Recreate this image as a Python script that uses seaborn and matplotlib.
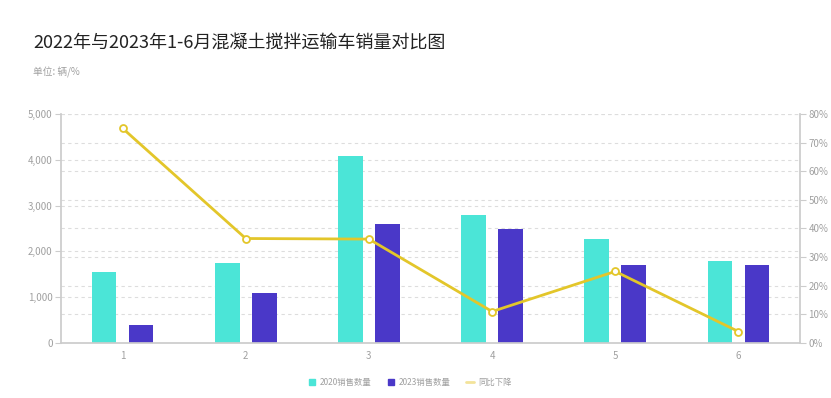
import numpy as np
import pandas as pd
import matplotlib
matplotlib.use("Agg")
import matplotlib.pyplot as plt
import seaborn as sns
from matplotlib.lines import Line2D
from matplotlib.ticker import FuncFormatter, MultipleLocator

months = ["1", "2", "3", "4", "5", "6"]
sales_2022 = [1560, 1740, 4090, 2800, 2270, 1780]
sales_2023 = [390, 1100, 2600, 2490, 1700, 1710]
decline_pct = [75, 36.5, 36.3, 11, 25, 4]
series_names = ["2020销售数量", "2023销售数量"]
line_name = "同比下降"

teal = "#4BE5D7"
purple = "#4A38C8"
yellow = "#E3C62A"
grid_c = "#DDDDDD"
axis_c = "#CCCCCC"
text_c = "#A0A0A0"

sns.set_theme(style="white")
plt.rcParams['font.family'] = ['Noto Sans CJK SC', 'DejaVu Sans']

df = pd.DataFrame({
    "month": months * 2,
    "value": sales_2022 + sales_2023,
    "series": [series_names[0]] * 6 + [series_names[1]] * 6,
})

LEFT_MAX, RIGHT_MAX = 5000, 80

fig = plt.figure(figsize=(8.31, 3.98), dpi=100)
ax = fig.add_axes([0.0734, 0.1382, 0.8893, 0.5754])

# gridlines for both axes drawn behind the bars
for v in range(1000, LEFT_MAX + 1, 1000):
    ax.axhline(v, color=grid_c, linestyle=(0, (3, 3)), linewidth=0.8, zorder=0)
for p in range(10, RIGHT_MAX + 1, 10):
    ax.axhline(p / RIGHT_MAX * LEFT_MAX, color=grid_c, linestyle=(0, (3, 3)), linewidth=0.8, zorder=0)

sns.barplot(data=df, x="month", y="value", hue="series", ax=ax,
            palette=[teal, purple], width=0.6, gap=0.333, saturation=1,
            legend=False, edgecolor="none", linewidth=0, zorder=2)
ax.set_xlim(-0.5, 5.5)
ax.set_ylim(0, LEFT_MAX)
ax.yaxis.set_major_locator(MultipleLocator(1000))
ax.yaxis.set_major_formatter(FuncFormatter(lambda v, p: f"{int(v):,}"))
ax.set_xlabel("")
ax.set_ylabel("")

ax2 = ax.twinx()
sns.lineplot(x=np.arange(6), y=decline_pct, ax=ax2, color=yellow, linewidth=2,
             marker="o", markersize=5, markerfacecolor="white",
             markeredgecolor=yellow, markeredgewidth=1.3, legend=False)
ax2.set_ylim(0, RIGHT_MAX)
ax2.yaxis.set_major_locator(MultipleLocator(10))
ax2.yaxis.set_major_formatter(FuncFormatter(lambda v, p: f"{int(v)}%"))
ax2.set_xlim(-0.5, 5.5)
ax2.set_ylabel("")

for a in (ax, ax2):
    for s in a.spines.values():
        s.set_visible(False)
    a.tick_params(colors=axis_c, labelcolor=text_c, labelsize=7, length=4, width=0.8)
ax.spines["left"].set_visible(True)
ax.spines["left"].set_color(axis_c)
ax.spines["bottom"].set_visible(True)
ax.spines["bottom"].set_color(axis_c)
ax2.spines["right"].set_visible(True)
ax2.spines["right"].set_color(axis_c)
ax.tick_params(axis="x", length=3, pad=3)
ax.tick_params(axis="y", pad=2)
ax2.tick_params(axis="y", pad=2)

fig.text(0.040, 0.89, "2022年与2023年1-6月混凝土搅拌运输车销量对比图",
         fontsize=13.0, color="#222222", ha="left", va="center")
fig.text(0.040, 0.817, "单位: 辆/%", fontsize=7, color=text_c, ha="left", va="center")

handles = [
    Line2D([], [], marker="s", linestyle="none", markersize=5, markerfacecolor=teal, markeredgecolor=teal),
    Line2D([], [], marker="s", linestyle="none", markersize=5, markerfacecolor=purple, markeredgecolor=purple),
    Line2D([], [], color="#F3E39A", linewidth=2),
]
fig.legend(handles, series_names + [line_name], loc="center", bbox_to_anchor=(0.493, 0.04),
           ncol=3, frameon=False, fontsize=6, handlelength=1.0, handletextpad=0.5,
           columnspacing=1.8, labelcolor=text_c)

fig.savefig("out.png", dpi=100)
